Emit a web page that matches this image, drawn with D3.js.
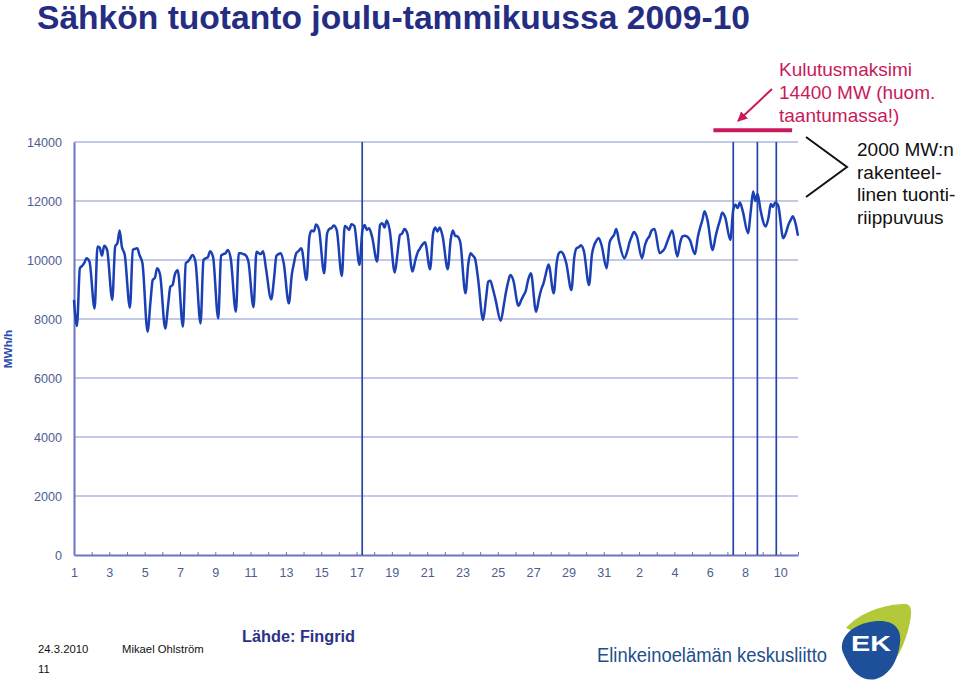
<!DOCTYPE html>
<html><head><meta charset="utf-8">
<script src="https://cdn.jsdelivr.net/npm/d3@7"></script>
<style>
body{margin:0;background:#fff}
svg{display:block}
text{font-family:"Liberation Sans",Arial,Helvetica,sans-serif}
</style>
</head><body>
<svg id="chart" width="960" height="682"></svg>
<script>
// ---------------- DATA ----------------
const dayCount = 41;                       // 1.12.2009 .. 10.1.2010
const readHours = [4, 8, 11, 14, 17, 21];  // hours of day at which values were read
const startValue = 8650;                   // 1.12. 00:00
const endValue = 10820;                    // 10.1. 24:00
const troughH4 = [7760,8360,8650,8380,7570,7680,7740,7850,8020,8250,8400,8670,8530,9325,9550,9460,9835,9950,9575,9610,9690,9690,8870,7965,7940,8450,8250,8870,8985,9155,9720,10060,10060,10230,10120,10200,10340,10680,10910,11135,10740];
const valueH8  = [9720,10460,10460,10340,8600,8500,9900,10000,10150,10230,10280,9400,9500,10800,10900,11150,11000,11190,10300,10000,10900,10700,9900,8700,8450,8650,8700,9900,10100,10200,10600,10300,10500,10300,10600,10800,10800,11700,11700,11450,10950];
const valueH11 = [9800,10420,10570,10380,9325,9100,9950,10060,10200,10230,10230,10135,9900,11000,11050,11100,11190,11250,10850,10250,11100,11000,10230,9265,8900,8800,9000,10230,10400,10500,10750,10600,10700,10400,10800,11100,11100,11870,12320,11900,11200];
const valueH14 = [9900,10140,11000,10400,9400,9150,10060,10100,10230,10200,10200,10200,10230,10970,11080,11020,11020,11100,10900,10380,10970,10820,10150,9300,9250,8950,9200,10280,10430,10660,10850,10800,10800,10600,10820,11350,11350,11760,12000,11800,11350];
const valueH17 = [10060,10480,10460,10170,9720,9500,10170,10300,10340,10170,10300,10230,10300,11200,11170,11215,11080,11340,11050,10500,11100,10800,10050,9050,9490,9300,9500,10200,10500,10750,11050,10950,11000,10800,10800,11650,11600,11950,12250,11950,11480];
const valueH21 = [9950,10340,10170,9900,9500,9650,9950,10100,10050,9950,9700,9900,10400,11020,11020,11150,10800,11020,10900,10600,10800,10600,9400,8650,9320,9550,9850,9900,10300,10500,10600,10800,11050,11000,10680,11350,11450,11650,11700,11850,11200];

const yTicks = [0, 2000, 4000, 6000, 8000, 10000, 12000, 14000];
const xLabelDays = [0,2,4,6,8,10,12,14,16,18,20,22,24,26,28,30,32,34,36,38,40];
const xLabels = ["1","3","5","7","9","11","13","15","17","19","21","23","25","27","29","31","2","4","6","8","10"];
const markerHours = [391.7, 896, 928.8, 954.5];   // vertical marker lines (hours from 1.12. 00:00)
const maxConsumption = 14400;                     // MW
const maxSpanHours = [869, 976];

const title = "Sähkön tuotanto joulu-tammikuussa 2009-10";
const yLabel = "MWh/h";
const noteMax = ["Kulutusmaksimi", "14400 MW (huom.", "taantumassa!)"];
const noteImport = ["2000 MW:n", "rakenteel-", "linen tuonti-", "riippuvuus"];
const footerDate = "24.3.2010";
const footerAuthor = "Mikael Ohlström";
const footerPage = "11";
const source = "Lähde: Fingrid";
const orgName = "Elinkeinoelämän keskusliitto";

// ---------------- build series ----------------
const readCols = [troughH4, valueH8, valueH11, valueH14, valueH17, valueH21];
const series = [{h: 0, v: startValue}];
for (let d = 0; d < dayCount; d++) {
  readHours.forEach((hr, k) => series.push({h: d * 24 + hr, v: readCols[k][d]}));
}
series.push({h: dayCount * 24, v: endValue});

// ---------------- drawing ----------------
const svg = d3.select("#chart");
const x = d3.scaleLinear().domain([0, dayCount * 24]).range([74, 798]);
const y = d3.scaleLinear().domain([0, 14000]).range([555, 142]);

// title
svg.append("text").attr("x", 37).attr("y", 29)
  .attr("font-size", 33).attr("font-weight", "bold").attr("fill", "#252d83")
  .attr("textLength", 713).attr("lengthAdjust", "spacingAndGlyphs")
  .text(title);

// gridlines
svg.append("g").selectAll("line").data(yTicks.filter(v => v > 0)).join("line")
  .attr("x1", x(0)).attr("x2", x(dayCount * 24))
  .attr("y1", d => y(d)).attr("y2", d => y(d))
  .attr("stroke", "#8592d2").attr("stroke-width", 1.2);

// y axis
const yAxis = svg.append("g").attr("transform", `translate(${x(0)},0)`)
  .call(d3.axisLeft(y).tickValues(yTicks).tickSize(0).tickPadding(12).tickFormat(d3.format("d")));
yAxis.select(".domain").attr("stroke", "#6a77bf").attr("stroke-width", 2);
yAxis.selectAll("text").attr("font-size", 12.6).attr("fill", "#4f5c93")
  .attr("font-family", "Liberation Sans, Arial, sans-serif");

// x axis
const labelMap = new Map(xLabelDays.map((d, i) => [d * 24, xLabels[i]]));
const xAxis = svg.append("g").attr("transform", `translate(0,${y(0)})`)
  .call(d3.axisBottom(x).tickValues(d3.range(0, dayCount + 1).map(d => d * 24))
    .tickSizeInner(-3).tickSizeOuter(0).tickPadding(13.5)
    .tickFormat(h => labelMap.get(h) || ""));
xAxis.select(".domain").attr("stroke", "#6a77bf").attr("stroke-width", 2);
xAxis.selectAll(".tick line").attr("stroke", "#6a77bf").attr("stroke-width", 1);
xAxis.selectAll("text").attr("font-size", 12.6).attr("fill", "#4f5c93")
  .attr("font-family", "Liberation Sans, Arial, sans-serif");

// y label
svg.append("text").attr("transform", "translate(12,349) rotate(-90)")
  .attr("text-anchor", "middle").attr("font-size", 11.8).attr("font-weight", "bold")
  .attr("fill", "#2a4cb0").text(yLabel);

// vertical markers
svg.append("g").selectAll("line").data(markerHours).join("line")
  .attr("x1", d => x(d)).attr("x2", d => x(d))
  .attr("y1", y(14000)).attr("y2", y(0))
  .attr("stroke", "#2843a8").attr("stroke-width", 1.7);

// data line
svg.append("path").datum(series)
  .attr("fill", "none").attr("stroke", "#1a40b4").attr("stroke-width", 2.5)
  .attr("stroke-linejoin", "round")
  .attr("d", d3.line().x(d => x(d.h)).y(d => y(d.v)).curve(d3.curveMonotoneX));

// consumption max bar
const crimson = "#c81a5c";
svg.append("line")
  .attr("x1", x(maxSpanHours[0])).attr("x2", x(maxSpanHours[1]))
  .attr("y1", y(maxConsumption)).attr("y2", y(maxConsumption))
  .attr("stroke", crimson).attr("stroke-width", 4);

// arrow
svg.append("defs").append("marker").attr("id", "ah")
  .attr("viewBox", "0 0 10 10").attr("refX", 9).attr("refY", 5)
  .attr("markerWidth", 5).attr("markerHeight", 5).attr("orient", "auto")
  .append("path").attr("d", "M0,0 L10,5 L0,10 Z").attr("fill", crimson);
svg.append("line").attr("x1", 772).attr("y1", 89).attr("x2", 738).attr("y2", 121)
  .attr("stroke", crimson).attr("stroke-width", 2).attr("marker-end", "url(#ah)");

// crimson note
svg.append("g").selectAll("text").data(noteMax).join("text")
  .attr("x", 779).attr("y", (d, i) => 76 + i * 23)
  .attr("font-size", 19).attr("fill", crimson).text(d => d);

// bracket >
svg.append("path").attr("d", "M806,137 L847,167 L806,197")
  .attr("fill", "none").attr("stroke", "#111").attr("stroke-width", 2);

// black note
svg.append("g").selectAll("text").data(noteImport).join("text")
  .attr("x", 857).attr("y", (d, i) => 156 + i * 22.7)
  .attr("font-size", 19).attr("fill", "#111").text(d => d);

// footer
svg.append("text").attr("x", 38).attr("y", 653).attr("font-size", 11.3).attr("fill", "#111").text(footerDate);
svg.append("text").attr("x", 122).attr("y", 653).attr("font-size", 11.3).attr("fill", "#111").text(footerAuthor);
svg.append("text").attr("x", 38).attr("y", 673).attr("font-size", 11.3).attr("fill", "#111").text(footerPage);
svg.append("text").attr("x", 242).attr("y", 642).attr("font-size", 16.3).attr("font-weight", "bold")
  .attr("fill", "#2b3187").text(source);

// organisation name + logo
svg.append("text").attr("x", 597).attr("y", 662).attr("font-size", 20)
  .attr("textLength", 230).attr("lengthAdjust", "spacingAndGlyphs")
  .attr("fill", "#1e4e8c").attr("font-family", "Open Sans, Liberation Sans, sans-serif").text(orgName);
const logo = svg.append("g");
logo.append("path")
  .attr("d", "M846,628 C860,612 886,604 905,604 C912,604 912,612 910,622 C905,646 896,662 884,673 L872,640 Z")
  .attr("fill", "#b4c93a");
logo.append("path")
  .attr("d", "M842,645 C844,630 862,621 880,621 C895,621 902,630 900,643 C898,660 890,675 876,679 C864,682 852,673 847,661 C844,655 841,650 842,645 Z")
  .attr("fill", "#1d4f9b");
logo.append("text").attr("x", 851).attr("y", 651).attr("font-size", 22).attr("font-weight", "bold")
  .attr("fill", "#fff").attr("textLength", 40).attr("lengthAdjust", "spacingAndGlyphs").text("EK");
</script>
</body></html>
